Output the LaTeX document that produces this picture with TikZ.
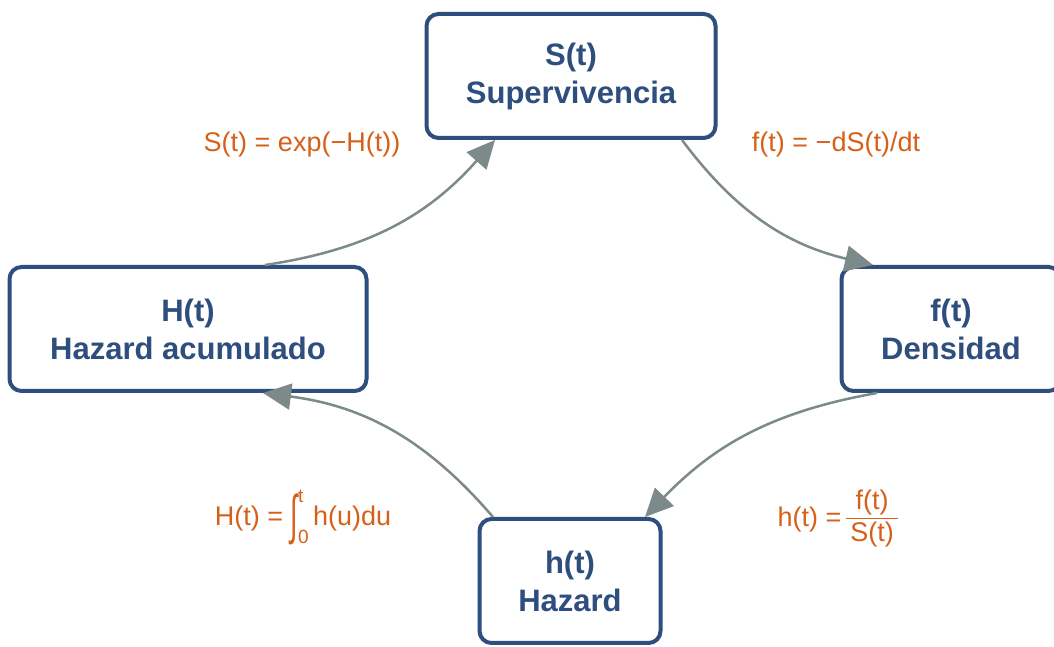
\documentclass[tikz,border=0pt]{standalone}
\usepackage{fontspec}
\usepackage{graphicx}
\setmainfont{Liberation Sans}
\usetikzlibrary{arrows.meta,shadows}
\definecolor{boxblue}{RGB}{46,78,126}
\definecolor{lblorange}{RGB}{214,96,24}
\definecolor{arrgray}{RGB}{125,138,138}
\begin{document}
\begin{tikzpicture}[x=1pt,y=1pt,
  box/.style={draw=boxblue, line width=4pt, rounded corners=12pt, fill=white,
    text=boxblue, font=\fontsize{31}{38}\selectfont\bfseries, align=center,
    minimum height=124pt, inner sep=0pt,
    drop shadow={opacity=0.25, shadow xshift=1.5pt, shadow yshift=-1.5pt, fill=black}},
  conn/.style={draw=arrgray, line width=2.5pt, -{Triangle[length=28pt,width=26pt]}},
  lbl/.style={text=lblorange, font=\fontsize{27}{31}\selectfont, inner sep=0pt}]
\useasboundingbox (0,0) rectangle (1054,647);
\clip (0,0) rectangle (1054,647);
% boxes
\node[box, minimum width=289pt] (S) at (571,571) {S(t)\\Supervivencia};
\node[box, minimum width=357pt] (H) at (188,318) {H(t)\\Hazard acumulado};
\node[box, minimum width=219pt] (f) at (951,318) {f(t)\\Densidad};
\node[box, minimum width=181pt] (h) at (570,66) {h(t)\\Hazard};
% connectors
\draw[conn] ([xshift=77pt]H.north) to[bend right=20] ([xshift=-76pt]S.south);
\draw[conn] ([xshift=111pt]S.south) to[bend right=20] ([xshift=-78pt]f.north);
\draw[conn] ([xshift=-74pt]f.south) to[bend right=18] ([xshift=75pt]h.north);
\draw[conn] ([xshift=-77pt]h.north) to[bend right=21] ([xshift=75pt]H.south);
% labels
\node[lbl] (l1) at (302,502) {S(t) = exp(−H(t))};
\node[lbl] (l2) at (836,502) {f(t) = −dS(t)/dt};
\node[lbl] (l3) at (303,129) {H(t) =\;\raisebox{-0.3em}{\scalebox{1}[2]{∫}}\rlap{\raisebox{0.85em}{\fontsize{19}{19}\selectfont t}}\raisebox{-0.65em}{\fontsize{19}{19}\selectfont 0}\,h(u)du};
\node[lbl] (l4) at (838,127) {h(t) =\,{\renewcommand{\arraystretch}{0.9}\setlength{\arrayrulewidth}{1.2pt}\setlength{\tabcolsep}{0pt}\raisebox{0pt}{\begin{tabular}[c]{@{\,}c@{\,}}f(t)\\\hline\rule{0pt}{23pt}S(t)\end{tabular}}}};
\end{tikzpicture}
\end{document}
